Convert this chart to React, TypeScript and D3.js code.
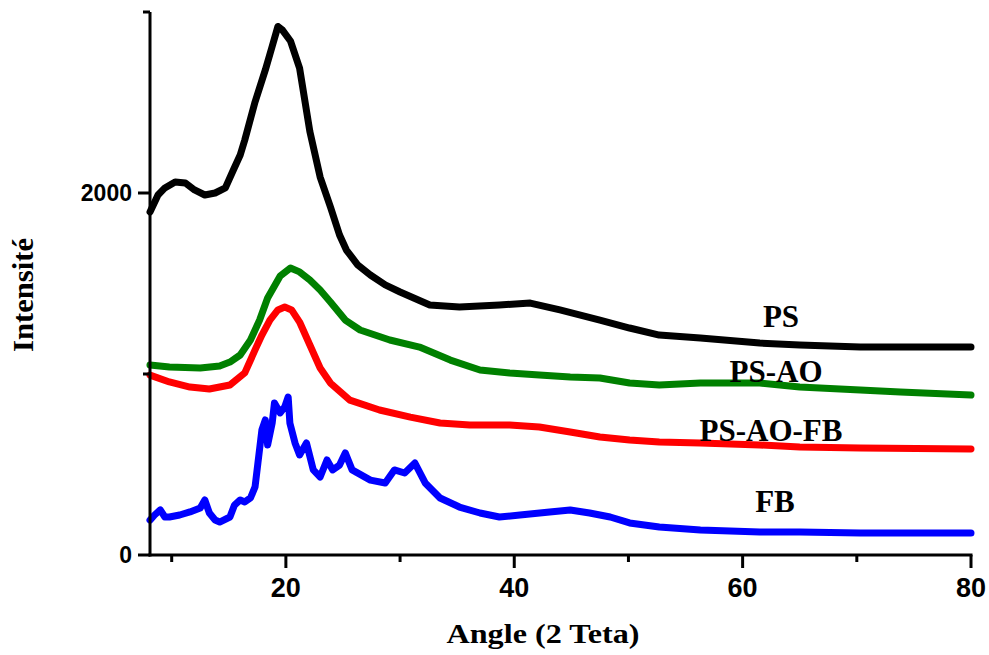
import React from "react";
import * as d3 from "d3";

type Pt = [number, number];

const xMajorTicks = [20, 40, 60, 80];
const xMinorTicks = [10, 30, 50, 70];
const yMajorTicks = [0, 2000];
const yMinorTicks = [1000, 3000];

const psData: Pt[] = [
  [8.1, 1895], [8.8, 1989], [9.4, 2028], [10.3, 2061], [11.2, 2055], [12.0, 2017], [12.9, 1989],
  [13.8, 2000], [14.7, 2028], [15.4, 2127], [16.0, 2210], [16.4, 2293], [17.3, 2503], [18.2, 2680],
  [18.8, 2810], [19.3, 2920], [19.7, 2900], [20.4, 2840], [21.2, 2690], [22.1, 2340], [23.0, 2088],
  [23.9, 1923], [24.7, 1768], [25.3, 1685], [26.3, 1602], [27.4, 1547], [28.7, 1492], [30.0, 1453],
  [32.6, 1381], [35.2, 1370], [38.7, 1381], [41.4, 1392], [44.0, 1354], [47.5, 1298], [50.1, 1254],
  [52.7, 1215], [56.3, 1199], [61.5, 1171], [65.0, 1160], [70.3, 1149], [80, 1149],
];

const psAoData: Pt[] = [
  [8.1, 1050], [9.8, 1039], [12.5, 1033], [14.2, 1044], [15.1, 1066], [16.0, 1105], [16.9, 1188],
  [17.7, 1298], [18.4, 1420], [19.5, 1541], [20.4, 1586], [21.2, 1564], [22.1, 1519], [23.0, 1464],
  [23.9, 1398], [25.2, 1298], [26.5, 1243], [29.1, 1188], [31.7, 1149], [34.4, 1077], [37.0, 1022],
  [39.6, 1006], [42.2, 994], [44.9, 983], [47.5, 978], [50.1, 950], [52.7, 939], [56.3, 950],
  [61.5, 950], [65.0, 928], [70.3, 912], [73.8, 901], [80, 884],
];

const psAoFbData: Pt[] = [
  [8.1, 994], [9.8, 956], [11.6, 928], [13.3, 917], [15.1, 939], [16.4, 1006], [17.3, 1133],
  [17.9, 1215], [18.6, 1298], [19.3, 1354], [19.9, 1370], [20.5, 1354], [21.2, 1287], [22.1, 1160],
  [23.0, 1033], [23.9, 950], [25.6, 856], [28.2, 801], [30.9, 762], [33.5, 729], [36.1, 718],
  [39.6, 718], [42.2, 707], [44.9, 680], [47.5, 652], [50.1, 635], [52.7, 624], [56.3, 619],
  [61.5, 608], [65.0, 597], [70.3, 591], [80, 586],
];

const fbData: Pt[] = [
  [8.1, 193], [8.5, 221], [9.0, 249], [9.4, 210], [9.8, 210], [10.7, 221], [11.6, 238], [12.5, 260],
  [12.9, 304], [13.3, 232], [13.8, 193], [14.2, 182], [15.1, 210], [15.5, 276], [16.0, 304],
  [16.4, 293], [16.9, 315], [17.3, 376], [17.55, 508], [17.9, 691], [18.2, 746], [18.4, 608],
  [18.8, 729], [19.0, 840], [19.5, 785], [19.9, 818], [20.2, 873], [20.35, 729], [20.8, 619],
  [21.2, 553], [21.8, 619], [22.4, 470], [23.0, 431], [23.6, 525], [24.1, 470], [24.7, 497],
  [25.2, 564], [25.8, 470], [27.4, 414], [28.7, 398], [29.5, 470], [30.4, 453], [31.3, 508],
  [32.2, 398], [33.5, 315], [35.2, 265], [37.0, 232], [38.7, 210], [40.5, 221], [43.1, 238],
  [44.9, 249], [46.6, 232], [48.4, 210], [50.1, 177], [52.7, 155], [56.3, 138], [61.5, 127],
  [65.0, 127], [70.3, 122], [80, 122],
];

const seriesNames = ["PS", "PS-AO", "PS-AO-FB", "FB"];
const seriesColors = ["#000000", "#008000", "#ff0000", "#0000ff"];
const seriesData = [psData, psAoData, psAoFbData, fbData];

const W = 989;
const H = 655;
const left = 150;
const right = 971;
const bottom = 555;
const top = 12;

export default function App() {
  const x = d3.scaleLinear().domain([8.1, 80]).range([left, right]);
  const y = d3.scaleLinear().domain([0, 3000]).range([bottom, top]);
  const line = d3
    .line<Pt>()
    .x((d) => x(d[0]))
    .y((d) => y(d[1]))
    .curve(d3.curveLinear);

  const labelPos = [
    { x: 781, y: 327 },
    { x: 776, y: 382 },
    { x: 771, y: 441 },
    { x: 775, y: 512 },
  ];

  return (
    <svg
      width={W}
      height={H}
      style={{ position: "absolute", left: 0, top: 0, background: "#fff" }}
    >
      <rect x={0} y={0} width={W} height={H} fill="#fff" />
      {seriesData.map((d, i) => (
        <path
          key={seriesNames[i]}
          d={line(d) || ""}
          fill="none"
          stroke={seriesColors[i]}
          strokeWidth={7}
          strokeLinejoin="round"
          strokeLinecap="round"
        />
      ))}
      {/* axes */}
      <line x1={left} x2={left} y1={bottom + 1.5} y2={y(3000)} stroke="#000" strokeWidth={3} />
      <line x1={left - 1.5} x2={right + 1.5} y1={bottom} y2={bottom} stroke="#000" strokeWidth={3} />
      {yMajorTicks.map((t) => (
        <g key={"ym" + t}>
          <line x1={left - 12} x2={left} y1={y(t)} y2={y(t)} stroke="#000" strokeWidth={3} />
          <text
            x={left - 18}
            y={y(t) + 8}
            textAnchor="end"
            fontFamily="Liberation Sans, Arial, sans-serif"
            fontWeight="bold"
            fontSize={23}
          >
            {t}
          </text>
        </g>
      ))}
      {yMinorTicks.map((t) => (
        <line key={"yn" + t} x1={left - 7} x2={left} y1={y(t)} y2={y(t)} stroke="#000" strokeWidth={3} />
      ))}
      {xMajorTicks.map((t) => (
        <g key={"xm" + t}>
          <line x1={x(t)} x2={x(t)} y1={bottom} y2={bottom + 13} stroke="#000" strokeWidth={3} />
          <text
            x={x(t)}
            y={597}
            textAnchor="middle"
            fontFamily="Liberation Sans, Arial, sans-serif"
            fontWeight="bold"
            fontSize={27}
          >
            {t}
          </text>
        </g>
      ))}
      {xMinorTicks.map((t) => (
        <line key={"xn" + t} x1={x(t)} x2={x(t)} y1={bottom} y2={bottom + 7} stroke="#000" strokeWidth={3} />
      ))}
      <text
        x={543}
        y={643}
        textAnchor="middle"
        fontFamily="Liberation Serif, Times New Roman, serif"
        fontWeight="bold"
        fontSize={28}
        textLength={193}
        lengthAdjust="spacingAndGlyphs"
      >
        Angle (2 Teta)
      </text>
      <text
        transform="translate(33,295) rotate(-90)"
        textAnchor="middle"
        fontFamily="Liberation Serif, Times New Roman, serif"
        fontWeight="bold"
        fontSize={29}
        textLength={114}
        lengthAdjust="spacingAndGlyphs"
      >
        Intensité
      </text>
      {seriesNames.map((n, i) => (
        <text
          key={"lb" + n}
          x={labelPos[i].x}
          y={labelPos[i].y}
          textAnchor="middle"
          fontFamily="Liberation Serif, Times New Roman, serif"
          fontWeight="bold"
          fontSize={31}
        >
          {n}
        </text>
      ))}
    </svg>
  );
}
